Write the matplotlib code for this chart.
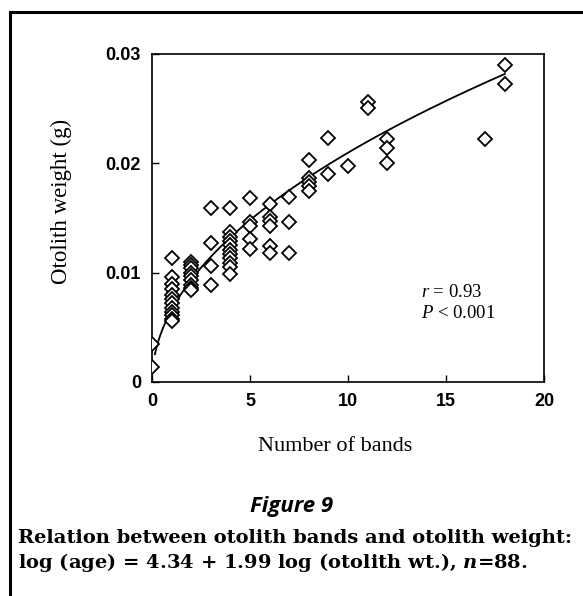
import numpy as np
import matplotlib.pyplot as plt
from matplotlib.lines import Line2D

plt.rcParams['mathtext.fontset'] = 'custom'
plt.rcParams['mathtext.it'] = 'Liberation Serif:italic'
plt.rcParams['mathtext.rm'] = 'Liberation Serif'
plt.rcParams['mathtext.bf'] = 'DejaVu Serif:italic:bold'

# otolith weight (g), grouped by number of bands
bands = [0, 1, 2, 3, 4, 5, 6, 7, 8, 9, 10, 11, 12, 17, 18]
weights = [
    [0.0035, 0.0014],
    [0.0113, 0.0096, 0.0090, 0.0085, 0.0080, 0.0076, 0.0072, 0.0068,
     0.0064, 0.0061, 0.0058, 0.0056],
    [0.0110, 0.0107, 0.0104, 0.0100, 0.0097, 0.0093, 0.0089, 0.0086, 0.0084],
    [0.0159, 0.0127, 0.0106, 0.0089],
    [0.0159, 0.0137, 0.0133, 0.0129, 0.0125, 0.0121, 0.0117, 0.0113,
     0.0109, 0.0105, 0.0099],
    [0.0168, 0.0146, 0.0143, 0.0131, 0.0122],
    [0.0163, 0.0151, 0.0147, 0.0143, 0.0124, 0.0118],
    [0.0169, 0.0146, 0.0118],
    [0.0203, 0.0187, 0.0183, 0.0179, 0.0175],
    [0.0223, 0.0190],
    [0.0198],
    [0.0256, 0.0251],
    [0.0222, 0.0214, 0.0200],
    [0.0222],
    [0.0290, 0.0273],
]

# fitted model from the caption: log(age) = 4.34 + 1.99 log(otolith wt.)
fit_a, fit_b = 4.34, 1.99

xs = [b for b, w in zip(bands, weights) for _ in w]
ys = [v for w in weights for v in w]

fig = plt.figure(figsize=(5.83, 5.96), dpi=100)
ax = fig.add_axes([0.2607, 0.3591, 0.6724, 0.5503])

ax.plot(xs, ys, linestyle='none', marker='D', markersize=7,
        markerfacecolor='white', markeredgecolor='black', markeredgewidth=1.3,
        zorder=3)

age = np.linspace(0.15, 18, 200)
wt = (age / 10 ** fit_a) ** (1 / fit_b)
ax.plot(age, wt, color='black', linewidth=1.3, zorder=2)

ax.set_xlim(0, 20)
ax.set_ylim(0, 0.03)
ax.set_xticks([0, 5, 10, 15, 20])
ax.set_yticks([0, 0.01, 0.02, 0.03])
ax.set_yticklabels(['0', '0.01', '0.02', '0.03'])
ax.tick_params(direction='in', length=5, width=1, pad=8, top=False, right=False)
for lab in ax.get_xticklabels() + ax.get_yticklabels():
    lab.set_fontfamily('Liberation Sans')
    lab.set_fontweight('bold')
    lab.set_fontsize(13)
for s in ax.spines.values():
    s.set_linewidth(1.2)

ax.set_xlabel('Number of bands', fontfamily='Liberation Serif', fontsize=16,
              va='center')
ax.xaxis.set_label_coords(0.468, -0.198)
ax.set_ylabel('Otolith weight (g)', fontfamily='Liberation Serif', fontsize=16.5,
              va='center')
ax.yaxis.set_label_coords(-0.23, 0.55)

ax.text(13.7, 0.0082, r'$r$ = 0.93', fontfamily='Liberation Serif',
        fontsize=13.5, va='center')
ax.text(13.7, 0.0063, r'$P$ < 0.001', fontfamily='Liberation Serif',
        fontsize=13.5, va='center')

# outer frame (cropped on the right and bottom)
fig.add_artist(Line2D([0.017, 1.0], [0.980, 0.980], color='black', linewidth=2.2))
fig.add_artist(Line2D([0.017, 0.017], [0.0, 0.980], color='black', linewidth=2.2))

fig.text(0.50, 0.150, 'Figure 9', ha='center', va='center', fontsize=16,
         fontweight='bold', style='italic', fontfamily='Open Sans')
fig.text(0.031, 0.097, 'Relation between otolith bands and otolith weight:',
         ha='left', va='center', fontsize=14, fontweight='bold',
         fontfamily='DejaVu Serif')
fig.text(0.031, 0.057, r'log (age) = 4.34 + 1.99 log (otolith wt.), $\mathbf{n}$=88.',
         ha='left', va='center', fontsize=14, fontweight='bold',
         fontfamily='DejaVu Serif')

fig.savefig('out.png', dpi=100)
